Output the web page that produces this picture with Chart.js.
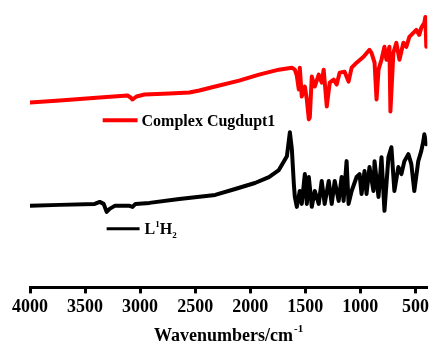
<!DOCTYPE html>
<html>
<head>
<meta charset="utf-8">
<script src="https://cdn.jsdelivr.net/npm/chart.js@4.4.1/dist/chart.umd.min.js"></script>
<style>
  body { margin: 0; background: #fff; }
</style>
</head>
<body>
<canvas id="irChart" width="432" height="345"></canvas>
<script>
// IR spectra, wavenumber (cm-1) vs transmittance (arbitrary units)
const xTicks = [4000, 3500, 3000, 2500, 2000, 1500, 1000, 500];

const complexWn = [4000, 3729, 3367, 3114, 3087, 3069, 3033, 2960, 2734, 2553,
    2463, 2318, 2101, 1920, 1740, 1622, 1595, 1577, 1559, 1550,
    1532, 1504, 1486, 1468, 1459, 1441, 1414, 1378, 1351, 1333,
    1305, 1278, 1242, 1215, 1188, 1143, 1107, 1079, 1034, 971,
    917, 899, 871, 853, 835, 808, 781, 763, 736, 727,
    700, 673, 645, 609, 582, 555, 519, 492, 465, 447,
    419, 410, 401];
const complexT = [186, 188, 191, 193, 191, 189, 192, 194, 195, 196,
    198, 202, 208, 214, 219, 221, 219, 213, 199, 221,
    192, 202, 189, 169, 171, 212, 202, 214, 206, 219,
    182, 206, 209, 204, 216, 217, 207, 221, 226, 232,
    239, 236, 226, 189, 219, 229, 242, 229, 242, 177,
    236, 246, 229, 246, 242, 252, 256, 259, 254, 261,
    266, 272, 242];

const ligandWn = [4000, 3729, 3412, 3367, 3331, 3304, 3277, 3231, 3096, 3069,
    3042, 2915, 2644, 2318, 2137, 1957, 1830, 1740, 1667, 1640,
    1622, 1604, 1595, 1577, 1550, 1532, 1504, 1486, 1468, 1441,
    1414, 1378, 1351, 1324, 1287, 1260, 1233, 1197, 1170, 1152,
    1125, 1107, 1079, 1034, 1007, 989, 962, 944, 917, 881,
    871, 835, 808, 781, 745, 718, 691, 655, 627, 600,
    564, 537, 510, 474, 447, 428, 419, 401];
const ligandT = [82, 83, 84, 86, 84, 76, 79, 82, 82, 81,
    84, 85, 89, 93, 99, 105, 111, 118, 132, 156,
    139, 104, 91, 81, 97, 84, 114, 84, 111, 81,
    97, 84, 107, 84, 107, 84, 107, 87, 111, 87,
    127, 84, 97, 111, 114, 94, 117, 94, 121, 97,
    127, 91, 131, 77, 131, 141, 97, 121, 114, 127,
    134, 124, 97, 127, 137, 147, 154, 144];

const RED = '#ff0000';
const BLACK = '#000000';
const SERIF = '"Liberation Serif", "Times New Roman", serif';

function toPoints(xs, ys) {
    return xs.map((v, i) => ({ x: v, y: ys[i] }));
}

// inline legend + axis title with superscript
const labelPlugin = {
    id: 'inlineLabels',
    afterDraw(chart) {
        const { ctx, chartArea } = chart;
        const x = chart.scales.x;
        const y = chart.scales.y;
        ctx.save();
        ctx.textBaseline = 'middle';
        ctx.fillStyle = BLACK;

        // Complex entry
        let ly = y.getPixelForValue(168);
        ctx.strokeStyle = RED;
        ctx.lineWidth = 4;
        ctx.beginPath();
        ctx.moveTo(x.getPixelForValue(3340), ly);
        ctx.lineTo(x.getPixelForValue(3023), ly);
        ctx.stroke();
        ctx.font = 'bold 16px ' + SERIF;
        ctx.fillText('Complex Cugdupt1', x.getPixelForValue(2987), ly + 1);

        // L1H2 entry
        ly = y.getPixelForValue(59);
        ctx.strokeStyle = BLACK;
        ctx.lineWidth = 3;
        ctx.beginPath();
        ctx.moveTo(x.getPixelForValue(3304), ly);
        ctx.lineTo(x.getPixelForValue(3005), ly);
        ctx.stroke();
        let tx = x.getPixelForValue(2960);
        ctx.font = 'bold 16px ' + SERIF;
        ctx.fillText('L', tx, ly + 1);
        tx += ctx.measureText('L').width;
        ctx.font = 'bold 9px ' + SERIF;
        ctx.fillText('1', tx, ly - 4);
        tx += ctx.measureText('1').width;
        ctx.font = 'bold 16px ' + SERIF;
        ctx.fillText('H', tx, ly + 1);
        tx += ctx.measureText('H').width;
        ctx.font = 'bold 9px ' + SERIF;
        ctx.fillText('2', tx, ly + 7);

        // axis title
        const main = 'Wavenumbers/cm';
        const sup = '-1';
        ctx.font = 'bold 18px ' + SERIF;
        const w1 = ctx.measureText(main).width;
        ctx.font = 'bold 11px ' + SERIF;
        const w2 = ctx.measureText(sup).width;
        const cx = (chartArea.left + chartArea.right) / 2;
        let sx = cx - (w1 + w2 + 1) / 2;
        ctx.font = 'bold 18px ' + SERIF;
        ctx.fillText(main, sx, 336);
        ctx.font = 'bold 11px ' + SERIF;
        ctx.fillText(sup, sx + w1 + 1, 329);
        ctx.restore();
    }
};

new Chart(document.getElementById('irChart').getContext('2d'), {
    type: 'line',
    data: {
        datasets: [{
            label: 'Complex Cugdupt1',
            data: toPoints(complexWn, complexT),
            borderColor: RED,
            borderWidth: 4,
            borderJoinStyle: 'round',
            borderCapStyle: 'round',
            pointRadius: 0,
            tension: 0,
            fill: false
        }, {
            label: 'L1H2',
            data: toPoints(ligandWn, ligandT),
            borderColor: BLACK,
            borderWidth: 4,
            borderJoinStyle: 'round',
            borderCapStyle: 'round',
            pointRadius: 0,
            tension: 0,
            fill: false
        }]
    },
    options: {
        responsive: false,
        animation: false,
        layout: { padding: { top: 10, left: 30, right: 3, bottom: 24 } },
        plugins: {
            legend: { display: false },
            tooltip: { enabled: false }
        },
        scales: {
            x: {
                type: 'linear',
                reverse: true,
                min: 392,
                max: 4000,
                afterBuildTicks: (scale) => {
                    scale.ticks = xTicks.map(v => ({ value: v }));
                },
                grid: {
                    display: true,
                    drawOnChartArea: false,
                    drawTicks: true,
                    tickLength: 6,
                    tickWidth: 3,
                    tickColor: BLACK
                },
                border: { display: true, color: BLACK, width: 3 },
                ticks: {
                    autoSkip: false,
                    maxRotation: 0,
                    padding: 3,
                    color: BLACK,
                    font: { family: SERIF, weight: 'bold', size: 18 },
                    callback: (v) => String(v)
                }
            },
            y: {
                display: false,
                min: 0,
                max: 279
            }
        }
    },
    plugins: [labelPlugin]
});
</script>
</body>
</html>
